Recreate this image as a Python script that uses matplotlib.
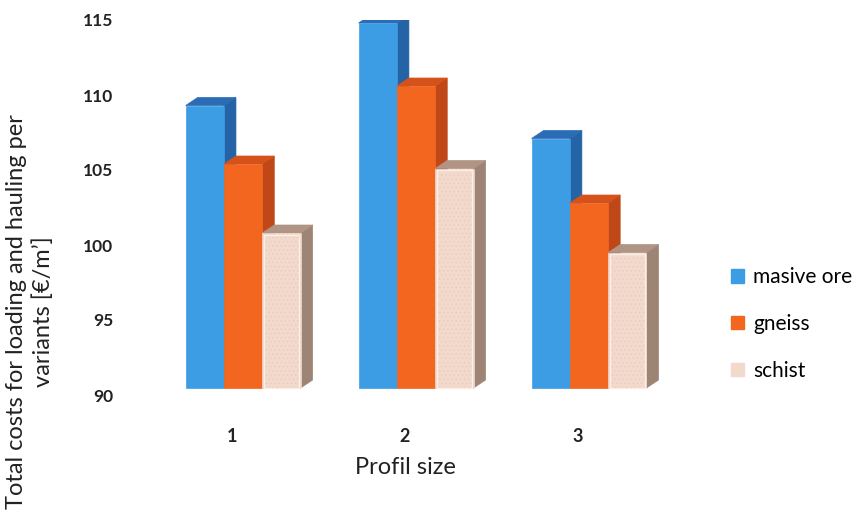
import matplotlib
matplotlib.use("Agg")
import matplotlib.pyplot as plt
from matplotlib.patches import Rectangle, Polygon, Patch

plt.rcParams['font.family'] = ['Lato', 'DejaVu Sans']
plt.rcParams['hatch.linewidth'] = 0.4

categories = ["1", "2", "3"]
series_names = ["masive ore", "gneiss", "schist"]
masive_ore = [109.3, 114.8, 107.1]
gneiss = [105.4, 110.6, 102.8]
schist = [100.8, 105.1, 99.5]
y_ticks = [90, 95, 100, 105, 110, 115]

series = [masive_ore, gneiss, schist]
front_colors = ["#3d9de4", "#f2661f", "#f2d9cc"]
side_colors = ["#2463a6", "#c04718", "#9e8474"]
top_colors = ["#2a6cb5", "#d5521a", "#b09484"]

W, H, DPI = 856, 522, 100
fig = plt.figure(figsize=(W / DPI, H / DPI), dpi=DPI)

ax_l, ax_r, ax_t, ax_b = 130, 680, 20, 395
ax = fig.add_axes([ax_l / W, 1 - ax_b / H, (ax_r - ax_l) / W, (ax_b - ax_t) / H])
xmin, xmax = -0.59, 2.59
ymin, ymax = 90, 115
ax.set_xlim(xmin, xmax)
ax.set_ylim(ymin, ymax)

# pixel -> data scale for the 3D depth offset
px_x = (xmax - xmin) / (ax_r - ax_l)
px_y = (ymax - ymin) / (ax_b - ax_t)
dx, dy = 12 * px_x, 8 * px_y
floor = ymin + 7 * px_y

bar_w = 0.2215
group_shift = 0.064

for ci in range(len(categories)):
    for si, vals in enumerate(series):
        v = vals[ci]
        x0 = ci + group_shift - 1.5 * bar_w + si * bar_w
        x1 = x0 + bar_w
        z = 2 + ci * 10 + si * 3
        # side face
        ax.add_patch(Polygon([(x1, floor), (x1 + dx, floor + dy), (x1 + dx, v + dy), (x1, v)],
                             closed=True, facecolor=side_colors[si], edgecolor=side_colors[si],
                             lw=0.5, zorder=z))
        # top face
        ax.add_patch(Polygon([(x0, v), (x1, v), (x1 + dx, v + dy), (x0 + dx, v + dy)],
                             closed=True, facecolor=top_colors[si], edgecolor=top_colors[si],
                             lw=0.5, zorder=z))
        # front face
        ax.add_patch(Rectangle((x0, floor), bar_w, v - floor, facecolor=front_colors[si],
                               edgecolor=front_colors[si], lw=0.5, zorder=z + 1))
        if si == 2:
            ax.add_patch(Rectangle((x0, floor), bar_w, v - floor, facecolor="none",
                                   edgecolor="#e6c9bb", hatch="....", lw=0, zorder=z + 1.5))
            ax.add_patch(Rectangle((x0 + 0.008, floor), bar_w - 0.016, v - floor - 0.12,
                                   facecolor="none", edgecolor="#fbeee8", lw=1.0, zorder=z + 1.6))

ax.set_xticks(range(len(categories)))
ax.set_xticklabels(categories, fontsize=13, fontweight="bold", color="#222222")
ax.set_yticks(y_ticks)
ax.set_yticklabels([str(t) for t in y_ticks], fontsize=12.5, fontweight="bold", color="#222222")
ax.tick_params(axis="both", length=0)
ax.tick_params(axis="y", pad=12)
ax.tick_params(axis="x", pad=24)
for s in ax.spines.values():
    s.set_visible(False)

fig.text(405 / W, 1 - 467 / H, "Profil size", ha="center", va="center", fontsize=17, color="#222222")
fig.text(30 / W, 1 - 312 / H, "Total costs for loading and hauling per\nvariants [€/m’]",
         ha="center", va="center", rotation=90, fontsize=17, color="#222222",
         multialignment="center", linespacing=1.35)

handles = [Patch(facecolor=front_colors[i], edgecolor=front_colors[i]) for i in range(3)]
fig.legend(handles, series_names, loc="center left", bbox_to_anchor=(721 / W, 1 - 324 / H),
           frameon=False, fontsize=15, handlelength=0.6, handleheight=0.6,
           handletextpad=0.45, labelspacing=1.28, borderpad=0)

fig.savefig("out.png", dpi=DPI)
